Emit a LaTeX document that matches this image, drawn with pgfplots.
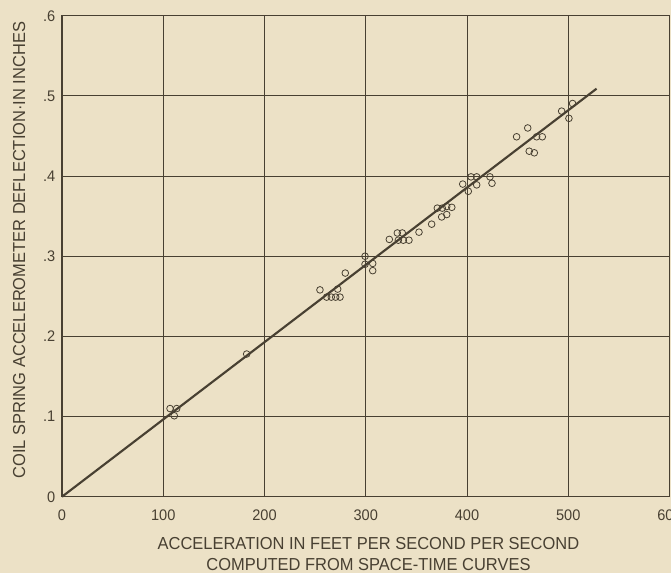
\documentclass[border=0pt]{standalone}
\usepackage{pgfplots}
\pgfplotsset{compat=1.18}
\usepackage{fontspec}
\setmainfont[FakeStretch=0.95]{Liberation Sans}
\definecolor{bg}{RGB}{236,225,198}
\definecolor{ink}{RGB}{72,64,50}
\begin{document}
\begin{tikzpicture}[x=1pt,y=1pt]
\fill[bg] (0,0) rectangle (503.25,429.75);
\useasboundingbox (0,0) rectangle (503.25,429.75);
\begin{axis}[
  at={(46.5pt,57.2pt)}, anchor=south west,
  width=455.6pt, height=360.75pt, scale only axis,
  xmin=0, xmax=600, ymin=0, ymax=0.6,
  xtick={0,100,200,300,400,500,600},
  xticklabels={0,100,200,300,400,500,600},
  ytick={0,0.1,0.2,0.3,0.4,0.5,0.6},
  yticklabels={0,.1,.2,.3,.4,.5,.6},
  major tick length=0pt,
  grid=major,
  grid style={ink, line width=0.6pt},
  axis line style={ink, line width=1.1pt},
  tick label style={font=\fontsize{11.5}{13}\selectfont, text=ink},
  xticklabel style={yshift=-6.3pt},
  yticklabel style={xshift=-1.5pt},
  clip=false,
]
\addplot[ink, line width=1.6pt] coordinates {(0,0) (528,0.509)};
\addplot[only marks, mark=o, mark size=2.5pt, mark options={draw=ink, fill=bg, line width=0.6pt}] coordinates {
(106.7,0.110) (113.3,0.110) (110.9,0.101)
(182.4,0.178)
(254.8,0.258)
(261.4,0.249) (266,0.249) (270.3,0.249) (274.6,0.249)
(272.3,0.259)
(279.8,0.279)
(299.3,0.300) (299.3,0.290) (306.9,0.291) (306.9,0.282)
(323.3,0.321) (331.2,0.329) (336.1,0.329) (332.2,0.320) (337.1,0.320) (342.7,0.320)
(352.6,0.330)
(365.1,0.340)
(370.7,0.360) (375.6,0.360) (380,0.362) (385,0.361)
(375,0.349) (380,0.352)
(395.8,0.390) (401.3,0.381) (404,0.399) (409.6,0.399) (409.6,0.389)
(422.7,0.399) (424.7,0.391)
(449,0.449) (460,0.460) (461.5,0.431) (466.5,0.429) (468.8,0.449) (474.4,0.449)
(493.5,0.481) (504.3,0.4905) (500.7,0.472)
};
\node[anchor=base, inner sep=0pt, font=\fontsize{13}{15}\selectfont, text=ink] at (rel axis cs:0.5045,-0.1095) {ACCELERATION IN FEET PER SECOND PER SECOND};
\node[anchor=base, inner sep=0pt, font=\fontsize{13}{15}\selectfont, text=ink] at (rel axis cs:0.5045,-0.1540) {COMPUTED FROM SPACE-TIME CURVES};
\node[rotate=90, anchor=base, inner sep=0pt, font=\fontsize{13}{15}\selectfont, text=ink] at (rel axis cs:-0.0609,0.5125) {COIL SPRING ACCELEROMETER DEFLECTION·IN INCHES};
\end{axis}
\end{tikzpicture}
\end{document}
